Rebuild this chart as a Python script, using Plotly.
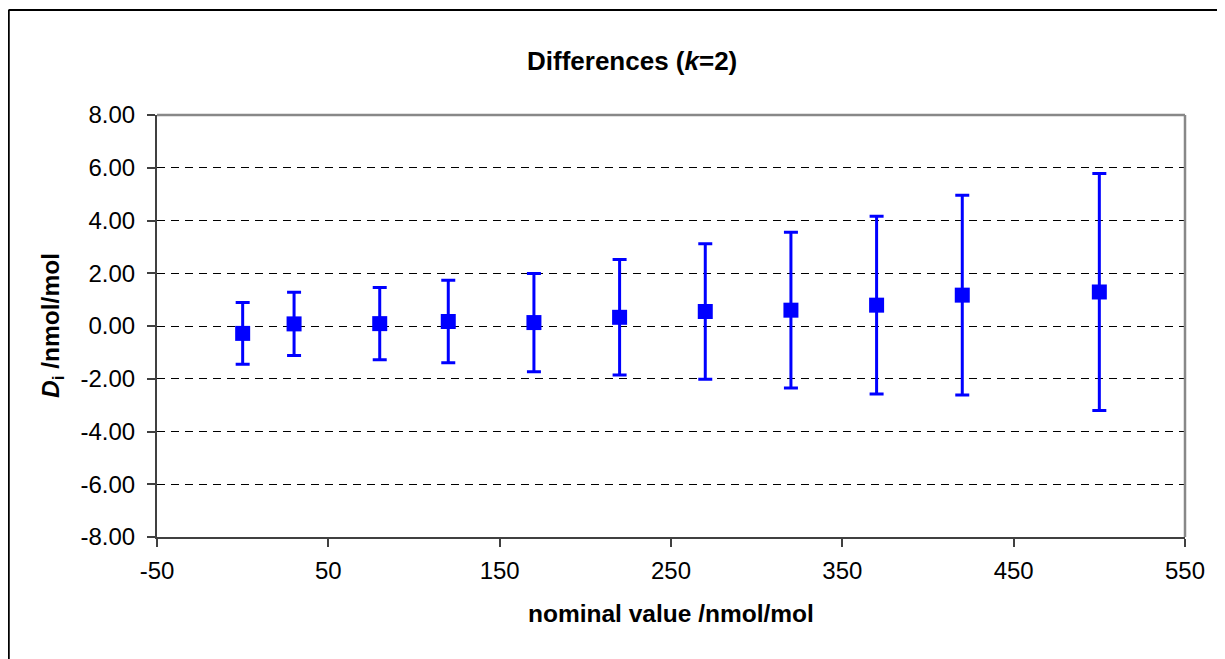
import plotly.graph_objects as go

nominal = [0, 30, 80, 120, 170, 220, 270, 320, 370, 420, 500]
differences = [-0.28, 0.08, 0.09, 0.17, 0.13, 0.33, 0.55, 0.60, 0.79, 1.17, 1.29]
expanded_unc = [1.17, 1.20, 1.37, 1.56, 1.86, 2.19, 2.57, 2.95, 3.37, 3.79, 4.49]
y_ticks = [-8, -6, -4, -2, 0, 2, 4, 6, 8]
x_ticks = [-50, 50, 150, 250, 350, 450, 550]

FONT = "Liberation Sans, Arial, sans-serif"
OFF = 8  # default page body margin
W, H = 1225 - OFF, 659 - OFF
L, R, T, B = 157 - OFF, 40, 115 - OFF, 122
pw, ph = W - L - R, H - T - B

def px(x):
    return (x - OFF - L) / pw

def py(y):
    return (H - B - (y - OFF)) / ph

fig = go.Figure()
fig.add_trace(go.Scatter(
    x=nominal, y=differences, mode="markers",
    marker=dict(symbol="square", size=15, color="#0000FF"),
    error_y=dict(type="data", array=expanded_unc, visible=True,
                 color="#0000FF", thickness=3, width=7),
    showlegend=False, cliponaxis=False,
))

fig.update_layout(
    width=W, height=H,
    margin=dict(l=L, r=R, t=T, b=B),
    paper_bgcolor="white", plot_bgcolor="white",
    font=dict(family=FONT, size=24, color="black"),
    xaxis=dict(range=[-50, 550], tickvals=x_ticks, ticktext=[str(v) for v in x_ticks],
               showgrid=False, zeroline=False, showline=True, linecolor="#404040",
               linewidth=2, ticks="outside", ticklen=8, tickwidth=1.5, tickcolor="#404040",
               tickfont=dict(size=24), ticklabelstandoff=3),
    yaxis=dict(range=[-8, 8], tickvals=y_ticks, ticktext=[f"{v:.2f}" for v in y_ticks],
               showgrid=True, gridcolor="black", gridwidth=1, griddash="8px,6px",
               zeroline=False, showline=True, linecolor="#404040", linewidth=2,
               ticks="outside", ticklen=8, tickwidth=1.5, tickcolor="#404040",
               tickfont=dict(size=24), ticklabelstandoff=7),
)

# plot-area box (top/right in gray)
fig.add_shape(type="line", xref="paper", yref="paper", x0=0, x1=1, y0=1, y1=1,
              line=dict(color="#888888", width=2.5))
fig.add_shape(type="line", xref="paper", yref="paper", x0=1, x1=1, y0=0, y1=1,
              line=dict(color="#888888", width=2.5))
# outer chart border (left/top visible)
fig.add_shape(type="line", xref="paper", yref="paper", x0=px(8.5), x1=px(8.5), y0=py(700), y1=py(10),
              line=dict(color="black", width=2.5))
fig.add_shape(type="line", xref="paper", yref="paper", x0=px(8.5), x1=px(1300), y0=py(10), y1=py(10),
              line=dict(color="black", width=2))

fig.add_annotation(text="<b>Differences (<i>k</i>=2)</b>", xref="paper", yref="paper",
                   x=px(632), y=py(61), xanchor="center", yanchor="middle",
                   showarrow=False, font=dict(size=26, family=FONT))
fig.add_annotation(text="<b>nominal value /nmol/mol</b>", xref="paper", yref="paper",
                   x=px(671), y=py(613), xanchor="center", yanchor="middle",
                   showarrow=False, font=dict(size=24.5, family=FONT))
fig.add_annotation(text="<b><i>D</i><sub>i</sub> /nmol/mol</b>", xref="paper", yref="paper",
                   x=px(52), y=0.5, xanchor="center", yanchor="middle", textangle=-90,
                   showarrow=False, font=dict(size=24.5, family=FONT))

fig.write_html("out.html")
